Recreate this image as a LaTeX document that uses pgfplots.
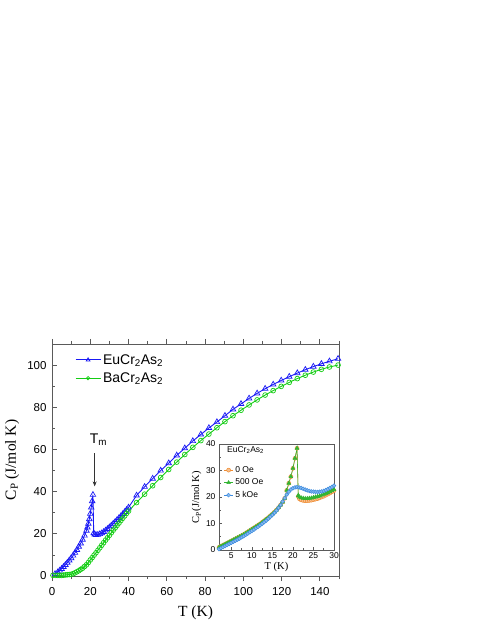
\documentclass[border=0pt]{standalone}
\usepackage{fontspec}
\setmainfont{Liberation Sans}
\newfontfamily\tnr{Liberation Serif}
\usepackage{pgfplots}
\pgfplotsset{compat=1.18}
\usetikzlibrary{arrows.meta}
\definecolor{eublue}{RGB}{25,25,245}
\definecolor{bagreen}{RGB}{20,205,20}
\definecolor{oorange}{RGB}{240,140,50}
\definecolor{ogreen}{RGB}{50,180,50}
\definecolor{oblue}{RGB}{60,140,225}
\definecolor{framegray}{RGB}{90,90,90}

\pgfplotstableread{
T Cp
1.6 1.0
3 1.8
4 2.6
5 3.4
6 4.3
7 5.3
8 6.3
9 7.4
10 8.5
11 9.7
12 11.0
13 12.4
14 13.9
15 15.5
16 17.2
17 19.2
18 21.5
18.5 23.0
19 24.8
19.5 27.0
20 29.5
20.5 32.5
21 35.5
21.4 38.5
21.8 20.3
22.3 19.7
23 19.5
24 19.6
25 19.9
26 20.3
27 20.9
28 21.6
29 22.3
30 23.1
31 23.9
32 24.8
33 25.7
34 26.6
35 27.5
36 28.4
37 29.4
38 30.4
39 31.4
40 32.5
44.2 38.2
48.4 42.3
52.6 46.2
56.8 50.0
61 53.5
65.2 57.2
69.4 60.6
73.6 64.0
77.8 67.1
82 70.2
86.2 73.0
90.4 76.0
94.6 79.0
98.8 81.6
103 84.2
107.2 86.6
111.4 88.8
115.6 90.8
119.8 92.7
124 94.5
128.2 96.2
132.4 97.8
136.6 99.3
140.8 100.6
145 101.8
149.5 103.0
}\eudata

\pgfplotstableread{
T Cp
0.5 0.3
2 0.3
3 0.3
4 0.3
5 0.3
6 0.4
7 0.5
8 0.6
9 0.7
10 0.8
11 1.1
12 1.5
13 2.0
14 2.5
15 3.1
16 3.7
17 4.5
18 5.3
19 6.4
20 7.6
21 8.7
22 9.9
23 11.0
24 12.2
25 13.4
26 14.6
27 15.8
28 17.0
29 18.1
30 19.3
31 20.5
32 21.7
33 22.8
34 24.0
35 25.1
36 26.3
37 27.4
38 28.5
39 29.7
40 30.8
44.2 34.8
48.4 38.8
52.6 42.8
56.8 46.7
61 50.5
65.2 54.0
69.4 57.6
73.6 61.0
77.8 64.2
82 67.3
86.2 70.3
90.4 73.2
94.6 76.0
98.8 78.6
103 81.1
107.2 83.5
111.4 85.8
115.6 87.9
119.8 89.9
124 91.8
128.2 93.6
132.4 95.2
136.6 96.7
140.8 98.0
145 99.1
149.5 100.0
}\badata

\pgfplotstableread{
T Cp
2 1.0
2.5 1.4
3 1.8
3.5 2.2
4 2.6
4.5 3.0
5 3.4
5.5 3.8
6 4.2
6.5 4.6
7 5.0
7.5 5.4
8 5.8
8.5 6.3
9 6.8
9.5 7.3
10 7.8
10.5 8.3
11 8.8
11.5 9.3
12 9.8
12.5 10.4
13 11.0
13.5 11.6
14 12.2
14.5 12.9
15 13.6
15.5 14.3
16 15.1
16.5 16.0
17 17.0
17.5 18.1
18 19.5
18.5 22.5
19 25.2
19.5 27.7
20 30.8
20.5 34.6
21 38.4
21.3 20.2
21.6 19.3
22 18.9
22.5 18.7
23 18.6
23.5 18.6
24 18.7
24.5 18.8
25 19.0
25.5 19.2
26 19.4
26.5 19.7
27 20.0
27.5 20.3
28 20.7
28.5 21.1
29 21.5
29.5 22.0
30 22.4
}\oeZero

\pgfplotstableread{
T Cp
2 1.0
2.5 1.4
3 1.8
3.5 2.2
4 2.6
4.5 3.0
5 3.4
5.5 3.8
6 4.2
6.5 4.6
7 5.0
7.5 5.4
8 5.8
8.5 6.3
9 6.8
9.5 7.3
10 7.8
10.5 8.3
11 8.8
11.5 9.3
12 9.8
12.5 10.4
13 11.0
13.5 11.6
14 12.2
14.5 12.9
15 13.6
15.5 14.3
16 15.1
16.5 16.0
17 17.0
17.5 18.1
18 19.5
18.5 22.5
19 25.2
19.5 27.7
20 30.8
20.5 34.6
21 38.4
21.3 20.6
21.6 20.0
22 19.7
22.5 19.5
23 19.4
23.5 19.4
24 19.5
24.5 19.6
25 19.8
25.5 20.0
26 20.2
26.5 20.4
27 20.7
27.5 21.0
28 21.3
28.5 21.6
29 22.0
29.5 22.4
30 22.8
}\oeFive

\pgfplotstableread{
T Cp
2 0.3
2.5 0.7
3 1.1
3.5 1.5
4 1.9
4.5 2.3
5 2.7
5.5 3.1
6 3.5
6.5 3.9
7 4.3
7.5 4.8
8 5.2
8.5 5.7
9 6.2
9.5 6.7
10 7.2
10.5 7.7
11 8.2
11.5 8.7
12 9.3
12.5 9.9
13 10.5
13.5 11.1
14 11.8
14.5 12.5
15 13.2
15.5 14.0
16 14.9
16.5 15.9
17 17.0
17.5 18.3
18 19.6
18.5 20.9
19 22.0
19.5 22.8
20 23.3
20.5 23.6
21 23.7
21.5 23.6
22 23.4
22.5 23.1
23 22.8
23.5 22.5
24 22.3
24.5 22.1
25 22.0
25.5 21.9
26 21.9
26.5 22.0
27 22.1
27.5 22.3
28 22.6
28.5 23.0
29 23.4
29.5 23.8
30 24.3
}\kOe

\begin{document}
\begin{tikzpicture}
\path[use as bounding box] (0,0) rectangle (480pt,621pt);
\begin{axis}[
  at={(52pt,45pt)}, anchor=south west, scale only axis,
  width=287pt, height=232pt,
  xmin=0, xmax=150, ymin=0, ymax=110,
  xtick={0,20,...,140}, minor xtick={10,30,...,150},
  ytick={0,20,...,100}, minor ytick={10,30,...,90},
  ytick pos=left,
  xtick align=outside, ytick align=inside,
  major tick length=5pt, minor tick length=3pt,
  axis line style={framegray, line width=0.9pt},
  every tick/.style={framegray, line width=0.8pt},
  /pgf/number format/assume math mode=true,
  tick label style={font=\fontsize{11.5}{13}\selectfont},
  xticklabel style={yshift=-3pt},
  yticklabel style={xshift=-2pt},
  xlabel={\tnr T (K)},
  ylabel={\tnr C\textsubscript{P} (J/mol K)},
  label style={font=\fontsize{15.5}{18}\selectfont},
  xlabel style={at={(axis description cs:0.5,-0.158)}, anchor=center},
  ylabel style={at={(axis description cs:-0.139,0.5)}, anchor=center},
  legend style={draw=none, fill=none, at={(axis description cs:0.08,0.892)}, anchor=west,
     font=\fontsize{14}{16}\selectfont, row sep=3pt, inner sep=0pt},
  legend cell align=left,
]
\addlegendimage{legend image code/.code={\draw[eublue, line width=0.9pt] (0pt,0pt) -- (25pt,0pt); \draw[eublue, line width=0.7pt, fill=white] plot[mark=triangle, mark size=2.2pt] coordinates {(12.5pt,0pt)};}}
\addlegendentry{EuCr\textsubscript{2}As\textsubscript{2}}
\addlegendimage{legend image code/.code={\draw[bagreen, line width=0.9pt] (0pt,0pt) -- (25pt,0pt); \draw[bagreen, line width=0.7pt, fill=white] plot[mark=o, mark size=1.7pt] coordinates {(12.5pt,0pt)};}}
\addlegendentry{BaCr\textsubscript{2}As\textsubscript{2}}
\addplot[color=eublue, line width=0.9pt, mark=triangle, mark size=3.2pt, mark options={solid, line width=0.7pt}, forget plot] table[x=T,y=Cp] {\eudata};
\addplot[color=bagreen, line width=0.9pt, mark=o, mark size=2.4pt, mark options={solid, line width=0.7pt}, forget plot] table[x=T,y=Cp] {\badata};
\draw[-{Stealth[length=5pt,width=4pt]}, line width=0.6pt, black!80] (axis cs:22.3,58.2) -- (axis cs:22.3,42.5);
\node[font=\fontsize{14}{16}\selectfont] at (axis cs:24.3,64.8) {T\textsubscript{m}};
\end{axis}

\begin{axis}[
  at={(219pt,71pt)}, anchor=south west, scale only axis,
  width=115pt, height=106pt,
  xmin=2, xmax=30, ymin=0, ymax=40,
  xtick={5,10,...,30}, ytick={0,10,...,40},
  minor xtick={2.5,7.5,...,27.5}, minor ytick={5,15,...,35},
  xtick pos=bottom, ytick pos=left,
  tick align=inside,
  major tick length=3pt, minor tick length=2pt,
  axis background/.style={fill=white},
  axis line style={framegray, line width=0.7pt},
  every tick/.style={framegray, line width=0.6pt},
  /pgf/number format/assume math mode=true,
  tick label style={font=\fontsize{8.5}{10}\selectfont},
  xticklabel style={yshift=1pt},
  xlabel={\tnr T (K)},
  ylabel={\tnr C\textsubscript{P}(J/mol K)},
  label style={font=\fontsize{10.5}{12}\selectfont},
  xlabel style={at={(axis description cs:0.5,-0.16)}, anchor=center},
  ylabel style={at={(axis description cs:-0.194,0.5)}, anchor=center},
  legend style={draw=none, fill=none, at={(axis description cs:0.04,0.635)}, anchor=west,
     font=\fontsize{8.5}{10}\selectfont, row sep=1pt, inner sep=0pt},
  legend cell align=left,
]
\addlegendimage{legend image code/.code={\draw[oorange, line width=0.6pt] (0pt,0pt) -- (9pt,0pt); \draw[oorange, fill=oorange!55, line width=0.5pt] plot[mark=*, mark size=2pt] coordinates {(4.5pt,0pt)};}}
\addlegendentry{0 Oe}
\addlegendimage{legend image code/.code={\draw[ogreen, line width=0.6pt] (0pt,0pt) -- (9pt,0pt); \draw[ogreen, fill=ogreen] plot[mark=triangle*, mark size=2.1pt] coordinates {(4.5pt,0pt)};}}
\addlegendentry{500 Oe}
\addlegendimage{legend image code/.code={\draw[oblue, line width=0.6pt] (0pt,0pt) -- (9pt,0pt); \draw[oblue, fill=oblue!60, line width=0.5pt] plot[mark=*, mark size=1.9pt] coordinates {(4.5pt,0pt)};}}
\addlegendentry{5 kOe}
\addplot[color=oorange, line width=0.6pt, mark=*, mark size=2pt, mark options={solid, fill=oorange!55, draw=oorange, line width=0.5pt}, forget plot] table[x=T,y=Cp] {\oeZero};
\addplot[color=ogreen, line width=0.6pt, mark=triangle*, mark size=2.1pt, mark options={solid, fill=ogreen, draw=ogreen}, forget plot] table[x=T,y=Cp] {\oeFive};
\addplot[color=oblue, line width=0.6pt, mark=*, mark size=1.9pt, mark options={solid, fill=oblue!60, draw=oblue, line width=0.5pt}, forget plot] table[x=T,y=Cp] {\kOe};
\node[anchor=west, font=\fontsize{8.5}{10}\selectfont] at (axis description cs:0.04,0.943) {EuCr\textsubscript{2}As\textsubscript{2}};
\end{axis}
\end{tikzpicture}
\end{document}
